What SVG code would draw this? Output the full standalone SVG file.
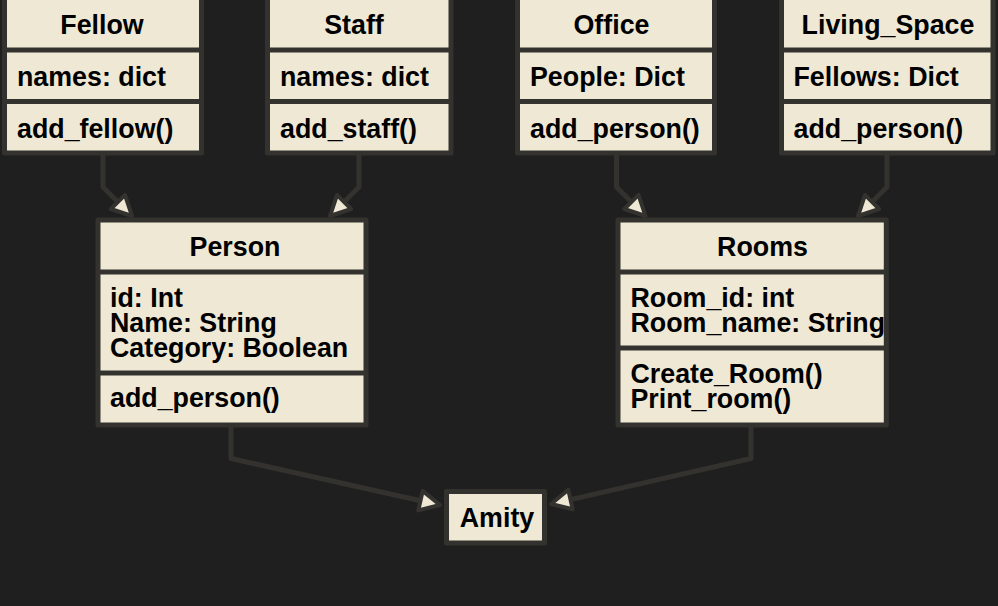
<svg xmlns="http://www.w3.org/2000/svg" width="998" height="606" viewBox="0 0 998 606">
<style>
.box{fill:#eee8d5;stroke:#33322e;stroke-width:5;stroke-linejoin:round}
.div{stroke:#33322e;stroke-width:5}
.t{font-family:"Liberation Sans",Arial,sans-serif;font-weight:bold;font-size:26.8px;fill:#000}
.c{text-anchor:middle}
.edge{fill:none;stroke:#33322e;stroke-width:5;stroke-linejoin:round}
.head{fill:#eee8d5;stroke:#33322e;stroke-width:4;stroke-linejoin:round}
</style>
<rect width="998" height="606" fill="#1f1f1f"/>
<g id="connectors">
<path class="edge" d="M103,153 L103,187 L117.9,201.9"/>
<polygon class="head" points="132,216 125,194.8 110.8,209"/>
<path class="edge" d="M359,153 L359,187 L344.1,201.9"/>
<polygon class="head" points="330,216 351.2,209 337,194.8"/>
<path class="edge" d="M616.5,153 L616.5,187 L631.4,201.9"/>
<polygon class="head" points="645.5,216 638.5,194.8 624.3,209"/>
<path class="edge" d="M887,153 L887,187 L872.1,201.9"/>
<polygon class="head" points="858,216 879.2,209 865,194.8"/>
<path class="edge" d="M231,425 L231,458.5 L420.5,500.7"/>
<polygon class="head" points="440,505 418.3,510.4 422.7,490.9"/>
<path class="edge" d="M751,425 L751,458.5 L570.5,499.6"/>
<polygon class="head" points="551,504 572.7,509.3 568.3,489.8"/>
</g>
<g id="Fellow">
<rect class="box" x="4.5" y="-3" width="197" height="156"/>
<line class="div" x1="4.5" y1="50" x2="201.5" y2="50"/>
<line class="div" x1="4.5" y1="101.5" x2="201.5" y2="101.5"/>
<text class="t c" x="102" y="33.5">Fellow</text>
<text class="t" x="17" y="86">names: dict</text>
<text class="t" x="17" y="137.5">add_fellow()</text>
</g>
<g id="Staff">
<rect class="box" x="267.5" y="-3" width="183.5" height="156"/>
<line class="div" x1="267.5" y1="50" x2="451" y2="50"/>
<line class="div" x1="267.5" y1="101.5" x2="451" y2="101.5"/>
<text class="t c" x="354" y="33.5">Staff</text>
<text class="t" x="280" y="86">names: dict</text>
<text class="t" x="280" y="137.5">add_staff()</text>
</g>
<g id="Office">
<rect class="box" x="517.5" y="-3" width="197" height="156"/>
<line class="div" x1="517.5" y1="50" x2="714.5" y2="50"/>
<line class="div" x1="517.5" y1="101.5" x2="714.5" y2="101.5"/>
<text class="t c" x="611.5" y="33.5">Office</text>
<text class="t" x="530" y="86">People: Dict</text>
<text class="t" x="530" y="137.5">add_person()</text>
</g>
<g id="Living_Space">
<rect class="box" x="781.5" y="-3" width="211.5" height="156"/>
<line class="div" x1="781.5" y1="50" x2="993" y2="50"/>
<line class="div" x1="781.5" y1="101.5" x2="993" y2="101.5"/>
<text class="t c" x="888" y="33.5">Living_Space</text>
<text class="t" x="793.5" y="86">Fellows: Dict</text>
<text class="t" x="793.5" y="137.5">add_person()</text>
</g>
<g id="Person">
<rect class="box" x="98" y="220" width="268" height="205"/>
<line class="div" x1="98" y1="272" x2="366" y2="272"/>
<line class="div" x1="98" y1="373" x2="366" y2="373"/>
<text class="t c" x="235" y="256">Person</text>
<text class="t" x="110" y="306.5">id: Int</text>
<text class="t" x="110" y="331.5">Name: String</text>
<text class="t" x="110" y="356.5">Category: Boolean</text>
<text class="t" x="110" y="407">add_person()</text>
</g>
<g id="Rooms">
<rect class="box" x="618" y="220" width="268.3" height="205"/>
<line class="div" x1="618" y1="272" x2="886.3" y2="272"/>
<line class="div" x1="618" y1="348" x2="886.3" y2="348"/>
<text class="t c" x="762.5" y="256">Rooms</text>
<text class="t" x="630.5" y="306.5">Room_id: int</text>
<text class="t" x="630.5" y="331.5">Room_name: String</text>
<text class="t" x="630.5" y="382.5">Create_Room()</text>
<text class="t" x="630.5" y="407.5">Print_room()</text>
</g>
<g id="Amity">
<rect class="box" x="446.5" y="491.5" width="98" height="51.5"/>
<text class="t c" x="497" y="526.5">Amity</text>
</g>
</svg>
